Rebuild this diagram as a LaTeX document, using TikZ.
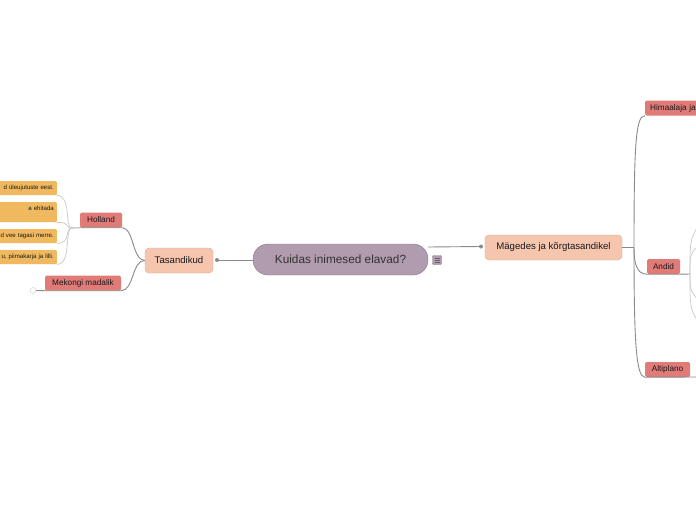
\documentclass[tikz,border=0pt]{standalone}
\usepackage{fontspec}
\setmainfont{Liberation Sans}
\definecolor{cenfill}{HTML}{B09BAF}
\definecolor{cendraw}{HTML}{8C788C}
\definecolor{topfill}{HTML}{F5C5AE}
\definecolor{topdraw}{HTML}{DDAE98}
\definecolor{subfill}{HTML}{E07B78}
\definecolor{leaffill}{HTML}{F0B95F}
\definecolor{linegray}{HTML}{8A8A8A}
\definecolor{leafgray}{HTML}{CACACA}
\begin{document}
\begin{tikzpicture}[x=1pt, y=-1pt, every node/.style={inner sep=0pt, text=black!90},
  link/.style={draw=linegray, line width=0.9pt},
  leaflink/.style={draw=leafgray, line width=0.7pt},
  topic/.style={draw=topdraw, fill=topfill, rounded corners=4pt, minimum height=25pt, font=\fontsize{9.6}{11}\selectfont},
  subtopic/.style={fill=subfill, rounded corners=1.5pt, minimum height=15pt, font=\fontsize{8.2}{9}\selectfont},
  leafbox/.style={fill=leaffill, rounded corners=1pt, anchor=north east, text width=70pt, align=right, inner xsep=3pt, minimum height=14pt, font=\fontsize{6.1}{7.5}\selectfont}]
  \clip (0,0) rectangle (696,520);
  \fill[white] (0,0) rectangle (696,520);
  % central idea
  \node[draw=cendraw, fill=cenfill, rounded corners=15pt, minimum width=175pt, minimum height=31pt, font=\fontsize{11.8}{13}\selectfont, text=black!80] (cent) at (340.5,259.5) {Kuidas inimesed elavad?};
  \node[draw=cendraw, fill=cenfill, rounded corners=1pt, minimum size=9pt] (menu) at (437,260) {};
  \foreach \dy in {-2,0,2}
    \draw[black!60, line width=0.5pt] ([xshift=-2.5pt, yshift=\dy pt]menu.center) -- ([xshift=2.5pt, yshift=\dy pt]menu.center);
  % main topics
  \node[topic, minimum width=68pt] (tas) at (179,260.5) {Tasandikud};
  \node[topic, minimum width=137pt] (mag) at (553.5,247.5) {Mägedes ja kõrgtasandikel};
  \coordinate (tasdot) at (217,260);
  \coordinate (magdot) at (481,246.5);
  \draw[link] (253,260) -- (tasdot);
  \draw[link] (cent.east |- 0,247) -- (magdot);
  \fill[linegray] (tasdot) circle (2pt) (magdot) circle (2pt);
  % left side
  \node[subtopic, minimum width=42pt] (hol) at (101,220) {Holland};
  \node[subtopic, minimum width=76pt] (mek) at (83,283) {Mekongi madalik};
  \draw[link] (tas.west) .. controls (132,260) and (134,228) .. (hol.south east) -- (hol.south west);
  \draw[link] (tas.west) .. controls (132,260) and (134,290.5) .. (mek.south east) -- (mek.south west) -- (36,290.5);
  \node[draw=leafgray, fill=white, circle, minimum size=6pt] (mekbtn) at (33,290.5) {};
  \node[leafbox] (lf1) at (57,181) {d üleujutuste eest.};
  \node[leafbox, minimum height=20pt] (lf2) at (57,202) {a ehitada\\\hphantom{x}};
  \node[leafbox] (lf3) at (57,229) {d vee tagasi merre.};
  \node[leafbox] (lf4) at (57,250) {u, piimakarja ja lilli.};
  \foreach \lf in {lf1,lf2,lf3,lf4}
    \draw[leaflink] (hol.south west) -- (72,228) .. controls (64,228) and (72,0 |- \lf.south east) .. (\lf.south east);
  % right side
  \node[subtopic, anchor=west, minimum width=60pt, text width=52pt, inner xsep=5pt] (him) at (645,108) {Himaalaja ja};
  \node[subtopic, minimum width=33pt] (and) at (663.5,266.5) {Andid};
  \node[subtopic, minimum width=45pt] (alt) at (667.5,369.5) {Altiplano};
  \coordinate (fork) at (634,247.5);
  \draw[link] (mag.east) -- (fork);
  \draw[link] (fork) .. controls (634,140) and (636,116) .. (him.south west);
  \draw[link] (fork) .. controls (634,262) and (636,274) .. (and.south west) -- (and.south east) -- (690,274);
  \draw[link] (fork) .. controls (634,340) and (636,377) .. (alt.south west) -- (696,377);
  \coordinate (andfork) at (690,274);
  \foreach \yy/\cy in {226/240, 246/254, 300/290, 322/308}
    \draw[leaflink] (andfork) .. controls (690,\cy) .. (698,\yy);
\end{tikzpicture}
\end{document}
